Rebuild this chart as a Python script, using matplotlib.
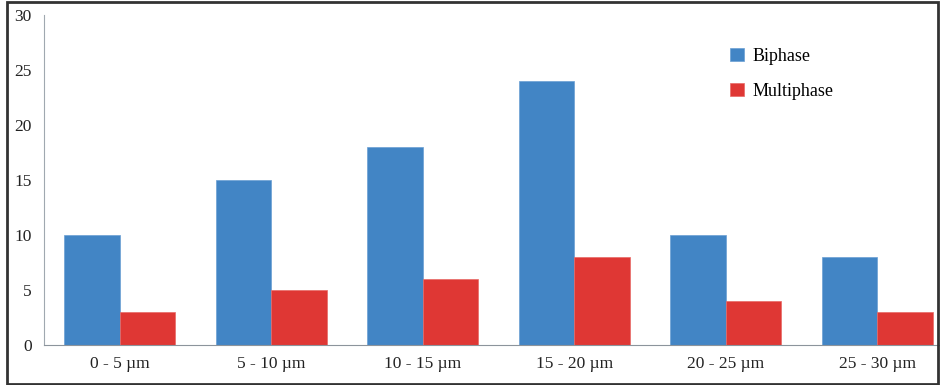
import numpy as np
import matplotlib.pyplot as plt
from matplotlib.patches import Rectangle

plt.rcParams['font.family'] = ['Liberation Serif', 'DejaVu Serif']

categories = ["0 - 5 µm", "5 - 10 µm", "10 - 15 µm", "15 - 20 µm", "20 - 25 µm", "25 - 30 µm"]
biphase = [10, 15, 18, 24, 10, 8]
multiphase = [3, 5, 6, 8, 4, 3]

blue = "#4285C5"
red = "#DF3734"

fig = plt.figure(figsize=(9.4, 3.85), dpi=100)
ax = fig.add_axes([44 / 940, (385 - 345) / 385, (940 - 44) / 940, 330 / 385])

x = np.arange(len(categories))
w = 0.366
ax.bar(x - w / 2, biphase, w, color=blue, edgecolor="#6A9FD3", linewidth=0.5, label="Biphase")
ax.bar(x + w / 2, multiphase, w, color=red, edgecolor="#E86A66", linewidth=0.5, label="Multiphase")

ax.set_ylim(0, 30)
ax.set_xlim(-0.5, (940 - 44) / 151.5 - 0.5)
ax.set_yticks(range(0, 31, 5))
ax.set_xticks(x)
ax.set_xticklabels(categories)
ax.tick_params(axis="both", length=0, labelsize=12.5, colors="#222222")
ax.tick_params(axis="y", pad=9)
ax.tick_params(axis="x", pad=8)

for s in ["top", "right"]:
    ax.spines[s].set_visible(False)
ax.spines["left"].set_color("#A0A8B0")
ax.spines["bottom"].set_color("#8C949C")

ax.legend(loc="upper left", bbox_to_anchor=(0.748, 0.95), frameon=False, fontsize=13,
          handlelength=0.75, handleheight=0.75, labelspacing=1.0, handletextpad=0.45)

# outer frame round the whole figure
fig.patches.append(Rectangle((7 / 940, 1 / 385), 931 / 940, 382 / 385, transform=fig.transFigure,
                             fill=False, edgecolor="#333333", linewidth=2))

plt.savefig("out.png", dpi=100)
